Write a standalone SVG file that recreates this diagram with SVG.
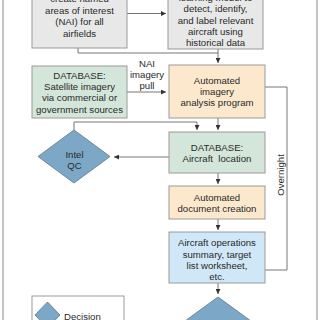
<svg xmlns="http://www.w3.org/2000/svg" width="320" height="320" viewBox="0 0 320 320">
<defs>
<marker id="ah" viewBox="0 0 6 6" refX="6" refY="3" markerWidth="5" markerHeight="5" orient="auto" markerUnits="userSpaceOnUse">
<path d="M0,0 L6,3 L0,6 Z" fill="#333"/>
</marker>
</defs>
<style>
text{font-family:"Liberation Sans",Arial,sans-serif;font-size:9.6px;fill:#2a2a2a;text-anchor:middle}
.box{stroke:#9a9a9a;stroke-width:1}
.gray{fill:#e8e8e8}
.green{fill:#d3e6d9}
.orange{fill:#fce8cd}
.blue{fill:#cfe7f6}
.dia{fill:#7da7c6;stroke:#6d8799;stroke-width:1}
.ln{fill:none;stroke:#666;stroke-width:0.9}
.arr{fill:none;stroke:#666;stroke-width:0.9;marker-end:url(#ah)}
.frame{stroke:#8a8a8a;stroke-width:1}
</style>
<rect width="320" height="320" fill="#fff"/>
<line class="frame" x1="3" y1="0" x2="3" y2="320"/>
<line class="frame" x1="317" y1="0" x2="317" y2="320"/>

<g id="connectors">
<path class="arr" d="M127,13.5 H166"/>
<path class="ln" d="M78,48 V53 H218"/>
<path class="arr" d="M218,49 V63"/>
<path class="arr" d="M127,92 H166"/>
<path class="ln" d="M265,87 H287 V270 H265"/>
<path class="arr" d="M218,118 V130"/>
<path class="arr" d="M74,130 V122 H197 V130"/>
<path class="arr" d="M169,157 H114"/>
<path class="arr" d="M218,173 V184"/>
<path class="arr" d="M218,219 V230"/>
<path class="arr" d="M218,283 V294"/>
<text x="147" y="67">NAI</text>
<text x="147" y="77.5">imagery</text>
<text x="147" y="88.5">pull</text>
<text transform="translate(284,175) rotate(-90)">Overnight</text>
</g>

<g id="n-nai">
<rect class="box gray" x="32" y="-5" width="95" height="53"/>
<text x="79.5" y="2">create named</text>
<text x="79.5" y="13.5">areas of interest</text>
<text x="79.5" y="25">(NAI) for all</text>
<text x="79.5" y="36.5">airfields</text>
</g>

<g id="n-ml">
<rect class="box gray" x="168" y="-5" width="95" height="54"/>
<text x="215.5" y="1">learning model to</text>
<text x="215.5" y="12.3">detect, identify,</text>
<text x="215.5" y="23.5">and label relevant</text>
<text x="215.5" y="34.7">aircraft using</text>
<text x="215.5" y="45.9">historical data</text>
</g>

<g id="n-sat">
<rect class="box green" x="32" y="66" width="95" height="52"/>
<text x="79.5" y="78.5">DATABASE:</text>
<text x="79.5" y="90">Satellite imagery</text>
<text x="79.5" y="101.3">via commercial or</text>
<text x="79.5" y="112.5">government sources</text>
</g>

<g id="n-analysis">
<rect class="box orange" x="169" y="65" width="96" height="53"/>
<text x="217" y="83.5">Automated</text>
<text x="217" y="94.5">imagery</text>
<text x="217" y="105.5">analysis program</text>
</g>

<g id="n-qc">
<polygon class="dia" points="74,130 110,156.5 74,183 38,156.5"/>
<text x="74.5" y="158">Intel</text>
<text x="74.5" y="169">QC</text>
</g>

<g id="n-loc">
<rect class="box green" x="169" y="132" width="96" height="41"/>
<text x="217" y="150.5">DATABASE:</text>
<text x="217" y="161.5" xml:space="preserve">Aircraft  location</text>
</g>

<g id="n-doc">
<rect class="box orange" x="169" y="186" width="96" height="33"/>
<text x="217" y="200.5">Automated</text>
<text x="217" y="211.5">document creation</text>
</g>

<g id="n-ops">
<rect class="box blue" x="169" y="232" width="96" height="51"/>
<text x="217" y="246">Aircraft operations</text>
<text x="217" y="257.5">summary, target</text>
<text x="217" y="268.7">list worksheet,</text>
<text x="217" y="280">etc.</text>
</g>

<g id="n-decision2">
<polygon class="dia" points="218,297 255,324 218,351 181,324"/>
</g>

<g id="legend">
<rect x="32" y="296" width="92" height="40" fill="#fff" stroke="#9a9a9a" stroke-width="1"/>
<polygon class="dia" points="47.5,302 60,315 47.5,328 35,315"/>
<text x="64" y="319.5" style="text-anchor:start">Decision</text>
</g>
</svg>
